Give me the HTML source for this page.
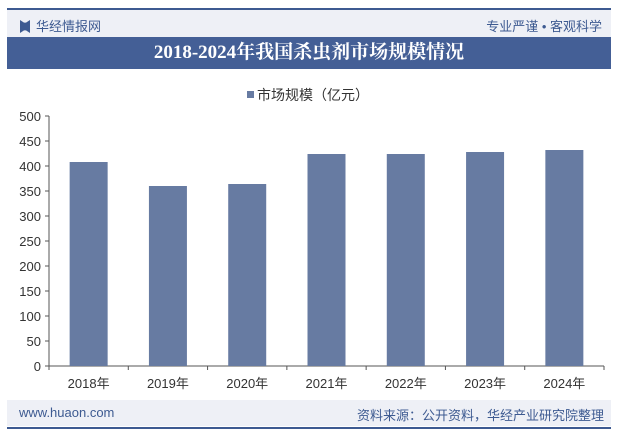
<!DOCTYPE html>
<html><head><meta charset="utf-8"><style>
body{margin:0;width:618px;height:433px;background:#fff;font-family:"Liberation Sans","Noto Sans CJK SC",sans-serif;position:relative;overflow:hidden}
.abs{position:absolute}
</style></head><body>
<div class="abs" style="left:7px;top:8px;width:604px;height:2px;background:#3d5a91"></div>
<div class="abs" style="left:7px;top:10px;width:604px;height:27px;background:#eef0f6"></div>
<div class="abs" style="left:20px;top:16px;font-size:13px;color:#3d5a91"><span style="display:inline-block;width:10px;height:13px;background:#3d5a91;vertical-align:-2px;margin-right:6px;clip-path:polygon(0 0,40% 20%,60% 20%,100% 0,100% 100%,60% 80%,40% 80%,0 100%)"></span>华经情报网</div>
<div class="abs" style="right:16px;top:16px;font-size:13px;color:#3d5a91">专业严谨 • 客观科学</div>
<div class="abs" style="left:7px;top:37px;width:604px;height:32px;background:#445f96;color:#fff;font:bold 19px 'Liberation Serif','Noto Serif CJK SC',serif;text-align:center;line-height:32px">2018-2024年我国杀虫剂市场规模情况</div>
<div class="abs" style="left:247px;top:85px;font-size:14px;color:#333"><span style="display:inline-block;width:7px;height:7px;background:#677ba2;margin-right:3px;vertical-align:2px"></span>市场规模（亿元）</div>
<svg class="abs" style="left:0;top:0" width="618" height="433" id="chart"></svg>
<div class="abs" style="left:7px;top:400px;width:604px;height:26px;background:#eef0f6"></div>
<div class="abs" style="left:19px;top:405px;font-size:13px;color:#3d5a91">www.huaon.com</div>
<div class="abs" style="right:14px;top:405px;font-size:13px;color:#3d5a91">资料来源：公开资料，华经产业研究院整理</div>
<div class="abs" style="left:7px;top:427px;width:604px;height:2px;background:#3d5a91"></div>
<script>
const categories=["2018年","2019年","2020年","2021年","2022年","2023年","2024年"];
const values=[408,360,364,424,424,428,432];
const yTicks=[0,50,100,150,200,250,300,350,400,450,500];
const svg=document.getElementById('chart');const NS='http://www.w3.org/2000/svg';
const x0=49,x1=604,y0=366,y1=116;
const cw=(x1-x0)/categories.length;
const ys=v=>y0-(v/500)*(y0-y1);
function mk(t,a){const e=document.createElementNS(NS,t);for(const k in a)e.setAttribute(k,a[k]);svg.appendChild(e);return e;}
const ya=mk('line',{x1:x0,y1:y1,x2:x0,y2:y0,stroke:'#555'});


const xa=mk('line',{x1:x0,y1:y0,x2:x1,y2:y0,stroke:'#555'});


yTicks.forEach(v=>{const y=ys(v);mk('line',{x1:x0-4,y1:y,x2:x0,y2:y,stroke:'#555'});
const t=mk('text',{x:x0-8,y:y+5,'text-anchor':'end','font-size':13,fill:'#333'});t.textContent=v;

});
for(let i=0;i<=categories.length;i++){const x=x0+i*cw;mk('line',{x1:x,y1:y0,x2:x,y2:y0+4,stroke:'#555'});}
categories.forEach((c,i)=>{const cx=x0+cw*(i+0.5);const bw=38;
const r=mk('rect',{x:cx-bw/2,y:ys(values[i]),width:bw,height:y0-ys(values[i]),fill:'#677ba2'});


const t=mk('text',{x:cx,y:y0+22,'text-anchor':'middle','font-size':13,fill:'#333'});t.textContent=c;

});
</script>
</body></html>
